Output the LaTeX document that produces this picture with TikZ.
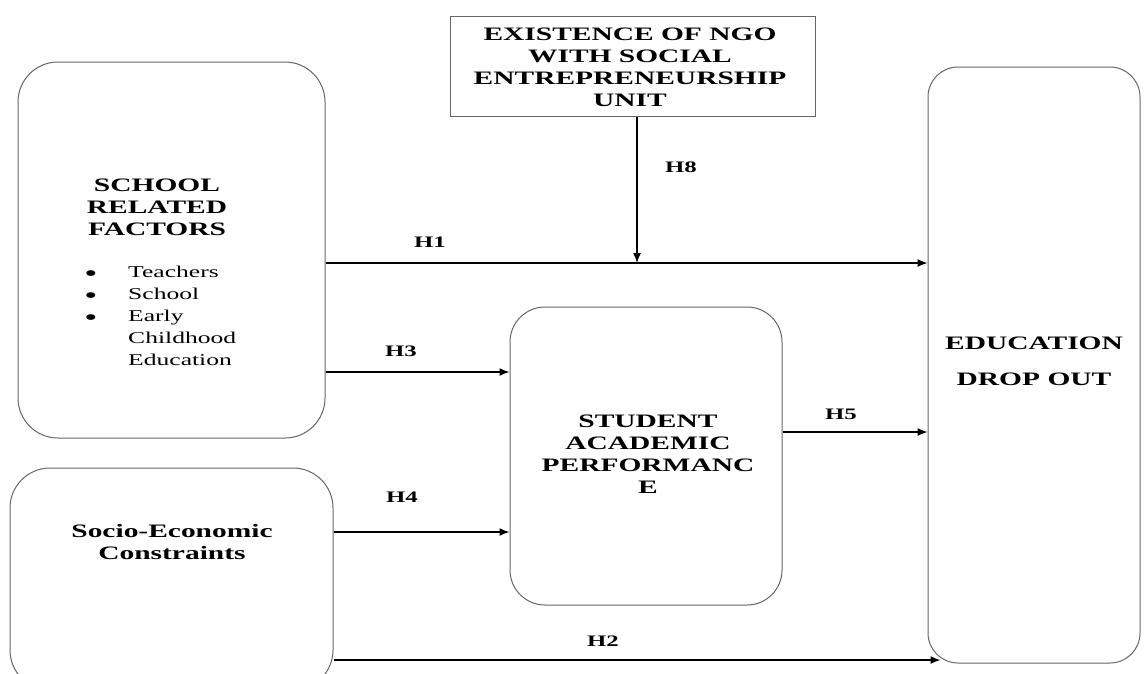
\documentclass[tikz,border=0pt]{standalone}
\usepackage{fontspec}
\setmainfont{Liberation Serif}[FakeStretch=1.55]
\usetikzlibrary{arrows.meta,calc}
\tikzset{
  box/.style={draw=black!60, line width=1pt, rounded corners=40pt, inner sep=0pt},
  sqbox/.style={draw=black!60, line width=1pt, inner sep=0pt},
  ttl/.style={font=\fontsize{19}{22}\selectfont\bfseries, align=center, inner sep=0pt},
  itm/.style={font=\fontsize{16.5}{22}\selectfont, align=left, inner sep=0pt, anchor=north west},
  bul/.style={inner sep=0pt, font=\fontsize{24}{24}\selectfont, text height=12pt, text depth=0pt, anchor=base},
  hlab/.style={font=\fontsize{16}{18}\selectfont\bfseries, inner sep=0pt},
  arr/.style={line width=1.4pt, -{Latex[length=10pt,width=8pt]}},
}
\begin{document}
\begin{tikzpicture}[x=1pt,y=-1pt]
\useasboundingbox (0,0) rectangle (1147,673);
\fill[white] (0,0) rectangle (1147,673);
% boxes
\node[sqbox, minimum width=365pt, minimum height=100pt] (ngo) at (632.5,66) {};
\node[ttl] (ngot) at (630,67) {EXISTENCE OF NGO\\WITH SOCIAL\\ENTREPRENEURSHIP\\UNIT};
\node[box, minimum width=307pt, minimum height=376pt] (school) at (171.5,250) {};
\node[ttl] (schoolt) at (157,207) {SCHOOL\\RELATED\\FACTORS};
\node[box, minimum width=323pt, minimum height=222pt] (socio) at (171.5,579) {};
\node[ttl] (sociot) at (172,542) {Socio-Economic\\Constraints};
\node[box, rounded corners=35pt, minimum width=272pt, minimum height=298pt] (student) at (646,456) {};
\node[ttl] (studentt) at (648,454) {STUDENT\\ACADEMIC\\PERFORMANC\\E};
\node[box, rounded corners=30pt, minimum width=212pt, minimum height=596pt] (edu) at (1034,365) {};
\node[ttl, font=\fontsize{19}{36}\selectfont\bfseries] (edut) at (1034,361) {EDUCATION\\DROP OUT};
% bullet list
\node[itm] (items) at (128,266) {Teachers\\School\\Early\\Childhood\\Education};
\node[bul] (b1) at (91,281) {•};
\node[bul] (b2) at (91,303) {•};
\node[bul] (b3) at (91,325) {•};
% connectors
\coordinate (h1end) at (edu.west |- 0,263);
\draw[arr] (school.east |- 0,263) -- (h1end);
\coordinate (h8end) at (637,263);
\draw[arr] (ngo.south -| h8end) -- (h8end);
\draw[arr] (school.east |- 0,372) -- (student.west |- 0,372);
\draw[arr] (socio.east |- 0,532) -- (student.west |- 0,532);
\draw[arr] (student.east |- 0,432) -- (edu.west |- 0,432);
\coordinate (h2end) at ($(edu.west |- 0,660)+(13,0)$);
\draw[arr] (socio.east |- 0,660) -- (h2end);
% labels
\node[hlab] (h1) at (430,242) {H1};
\node[hlab] (h8) at (681,167) {H8};
\node[hlab] (h3) at (401,351) {H3};
\node[hlab] (h4) at (402,497) {H4};
\node[hlab] (h5) at (841,414) {H5};
\node[hlab] (h2) at (603,641) {H2};
\end{tikzpicture}
\end{document}
